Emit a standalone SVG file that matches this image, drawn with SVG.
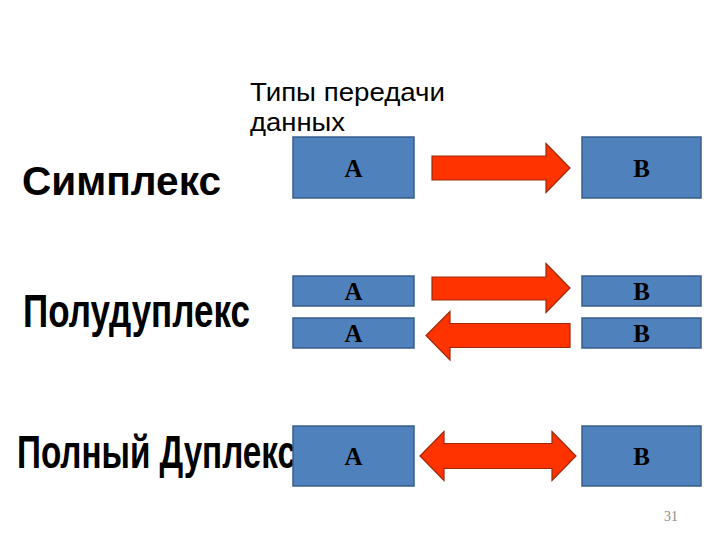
<svg xmlns="http://www.w3.org/2000/svg" width="720" height="540" viewBox="0 0 720 540">
<style>
.bg{fill:#ffffff}
.title{font-family:"Liberation Sans",Arial,sans-serif;font-size:25px;fill:#000}
.mode{font-family:"Liberation Sans",Arial,sans-serif;font-weight:bold;fill:#000}
.box{fill:#4F81BD;stroke:#385D8A;stroke-width:1.5}
.lbl{font-family:"Liberation Serif","Times New Roman",serif;font-weight:bold;font-size:25px;fill:#000;text-anchor:middle}
.arrow{fill:#FF3300;stroke:#9C2A0A;stroke-width:1.2}
.num{font-family:"Liberation Serif","Times New Roman",serif;font-size:14px;fill:#8C8C8C}
</style>
<rect class="bg" x="0" y="0" width="720" height="540"/>
<g id="title">
<text class="title" x="250" y="101" textLength="195" lengthAdjust="spacingAndGlyphs">Типы передачи</text>
<text class="title" x="250" y="131" textLength="95" lengthAdjust="spacingAndGlyphs">данных</text>
</g>
<g id="labels">
<text class="mode" x="22" y="195" font-size="40" textLength="199" lengthAdjust="spacingAndGlyphs">Симплекс</text>
<text class="mode" x="23" y="326.5" font-size="46" textLength="227" lengthAdjust="spacingAndGlyphs">Полудуплекс</text>
<text class="mode" x="17" y="468" font-size="46" textLength="279" lengthAdjust="spacingAndGlyphs">Полный Дуплекс</text>
</g>
<g id="simplex-A"><rect class="box" x="293" y="137" width="121" height="61"/><text class="lbl" x="353.5" y="177">A</text></g>
<g id="simplex-B"><rect class="box" x="582" y="137" width="119" height="61"/><text class="lbl" x="641.5" y="177">B</text></g>
<g id="half-A1"><rect class="box" x="293" y="276" width="121" height="30"/><text class="lbl" x="353.5" y="300">A</text></g>
<g id="half-B1"><rect class="box" x="582" y="276" width="119" height="30"/><text class="lbl" x="641.5" y="300">B</text></g>
<g id="half-A2"><rect class="box" x="293" y="318" width="121" height="30"/><text class="lbl" x="353.5" y="342">A</text></g>
<g id="half-B2"><rect class="box" x="582" y="318" width="119" height="30"/><text class="lbl" x="641.5" y="342">B</text></g>
<g id="full-A"><rect class="box" x="293" y="426" width="121" height="60"/><text class="lbl" x="353.5" y="465">A</text></g>
<g id="full-B"><rect class="box" x="582" y="426" width="119" height="60"/><text class="lbl" x="641.5" y="465">B</text></g>
<g id="connectors">
<polygon class="arrow" points="432,156 546,156 546,143.5 570,168 546,192.5 546,180 432,180"/>
<polygon class="arrow" points="432,277 546,277 546,263.5 570,288 546,312.5 546,300 432,300"/>
<polygon class="arrow" points="570,323.5 450,323.5 450,311.5 426,335.5 450,360 450,347.5 570,347.5"/>
<polygon class="arrow" points="420,456 444,431.5 444,443.5 552,443.5 552,431.5 576,456 552,480.5 552,468.5 444,468.5 444,480.5"/>
</g>
<text class="num" x="664" y="521">31</text>
</svg>
